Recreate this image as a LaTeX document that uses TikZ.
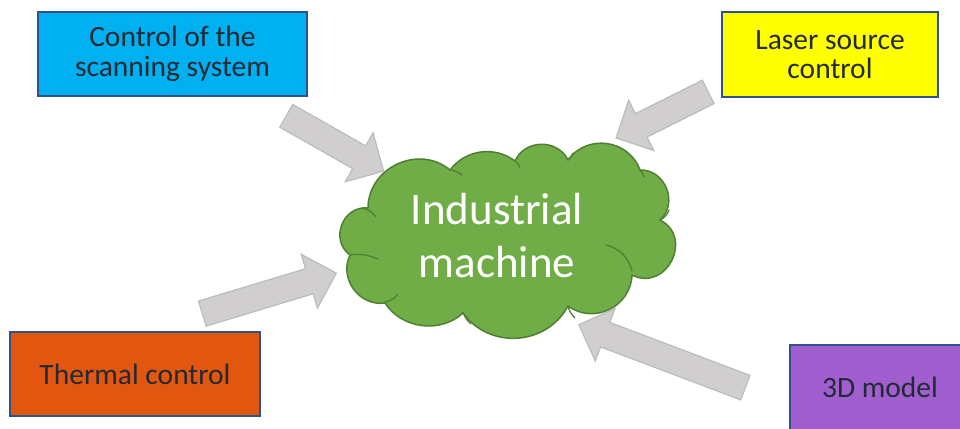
\documentclass[tikz,border=0pt]{standalone}
\usepackage{fontspec}
\setmainfont{Carlito}
\usepackage{tikz}
\usetikzlibrary{shapes.arrows, positioning}
\usepackage{xcolor}
\definecolor{scanblue}{RGB}{0,176,240}
\definecolor{laseryellow}{RGB}{255,255,0}
\definecolor{thermalorange}{RGB}{226,87,16}
\definecolor{modelpurple}{RGB}{160,94,206}
\definecolor{boxborder}{RGB}{47,82,143}
\definecolor{boxtext}{RGB}{34,42,53}
\tikzset{inputbox/.style={rectangle, draw=boxborder, line width=1.5pt, text=boxtext, align=center, inner sep=0pt, font=\fontsize{29.5}{29.5}\selectfont}}
\definecolor{machinegreen}{RGB}{112,173,71}
\definecolor{machineborder}{RGB}{80,126,50}
\definecolor{arrowgray}{RGB}{208,206,206}
\definecolor{arrowborder}{RGB}{188,188,188}
\tikzset{bigarrow/.style={single arrow, fill=arrowgray, draw=arrowborder, line width=1.2pt, minimum width=55pt, single arrow head extend=15pt, inner xsep=0pt, inner ysep=12.5pt}}

\begin{document}
\begin{tikzpicture}[
        x=1pt, y=-1pt,
        machinecloud/.style={fill=machinegreen, draw=machineborder, line width=1.5pt, line join=round},
        machinelabel/.style={text=white, align=center, font=\fontsize{45}{53}\selectfont},
        crease/.style={draw=machineborder, line width=1.3pt, line cap=round}
    ]
        \clip (0,0) rectangle (960,428);
        % Cloud outline, one bend per puff
        \draw[machinecloud] (350,255) to[bend left=75, looseness=1.3] (368,208)
            to[bend left=65, looseness=1.15] (450,170)
            to[bend left=45, looseness=1.0] (515,161)
            to[bend left=65, looseness=1.15] (568,160)
            to[bend left=62, looseness=1.15] (640,170)
            to[bend left=70, looseness=1.2] (660,220)
            to[bend left=90, looseness=1.6] (632,275)
            to[bend left=62, looseness=1.15] (568,306)
            to[bend left=58, looseness=1.1] (463,313)
            to[bend left=50, looseness=1.0] (385,303)
            to[bend left=62, looseness=1.12] (350,255) -- cycle;
        % Creases inside the cloud
        \draw[crease] (362,208) to[bend left=20] (376,217);
        \draw[crease] (350,255) to[bend left=15] (378,259);
        \draw[crease] (385,302) to[bend right=20] (398,294);
        \draw[crease] (463,312) to[bend right=15] (471,324);
        \draw[crease] (568,306) to[bend right=15] (575,318);
        \draw[crease] (606,245) to[bend left=30] (632,271);
        \draw[crease] (660,220) to[bend right=20] (669,210);
        \draw[crease] (640,170) to[bend left=15] (644,177);
        \draw[crease] (568,160) to[bend right=15] (573,153);
        \draw[crease] (515,161) to[bend left=15] (520,168);
        \draw[crease] (450,170) to[bend left=15] (462,175);
        \node (machine) [machinelabel] at (497,236) {Industrial\\machine};
        % Input boxes
        \node (scan) [inputbox, fill=scanblue, minimum width=269pt, minimum height=84pt] at (172.5,54) {Control of the\\scanning system};
        \node (laser) [inputbox, fill=laseryellow, minimum width=216pt, minimum height=85pt] at (830,54.5) {Laser source\\control};
        \node (thermal) [inputbox, fill=thermalorange, minimum width=250pt, minimum height=84pt] at (135,374) {Thermal control};
        \node (model) [inputbox, fill=modelpurple, minimum width=180pt, minimum height=85pt] at (880,387.5) {3D model};
        % Block arrows
        \node (scanarrow) [bigarrow, minimum height=112pt, rotate=-29.6] at (329.25,140.25) {};
        \node (laserarrow) [bigarrow, minimum height=103pt, rotate=206.6] at (668,112) {};
        \node (thermalarrow) [bigarrow, minimum height=140pt, rotate=16.8] at (263,295.25) {};
        \node (modelarrow) [bigarrow, minimum height=178pt, rotate=159.3] at (668.25,358.5) {};
    \end{tikzpicture}
\end{document}
